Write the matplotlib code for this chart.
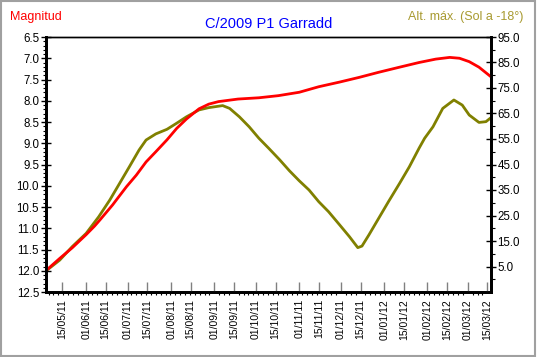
import matplotlib
matplotlib.use('Agg')
import matplotlib.pyplot as plt
import matplotlib.dates as mdates
from matplotlib.ticker import MultipleLocator, FixedLocator, FormatStrFormatter
from matplotlib.patches import Rectangle
from datetime import datetime
import pandas as pd

plt.rcParams['font.family'] = ['Liberation Sans', 'DejaVu Sans']

# magnitud (eje izquierdo)
mag_dates = ['2011-05-03', '2011-05-13', '2011-05-22', '2011-06-01', '2011-06-07',
             '2011-06-11', '2011-06-20', '2011-06-23', '2011-06-30', '2011-07-07',
             '2011-07-14', '2011-07-21', '2011-07-29', '2011-08-05', '2011-08-12',
             '2011-08-21', '2011-08-28', '2011-09-04', '2011-09-18', '2011-10-03',
             '2011-10-17', '2011-11-01', '2011-11-15', '2011-11-30', '2011-12-14',
             '2011-12-28', '2012-01-12', '2012-01-26', '2012-02-07', '2012-02-17',
             '2012-02-24', '2012-03-02', '2012-03-09', '2012-03-17']
mag_values = [12.0, 11.71, 11.46, 11.15, 10.95,
              10.80, 10.45, 10.32, 10.02, 9.75,
              9.44, 9.20, 8.92, 8.65, 8.43,
              8.19, 8.08, 8.02, 7.96, 7.93,
              7.88, 7.80, 7.67, 7.56, 7.45,
              7.33, 7.21, 7.10, 7.02, 6.98,
              7.00, 7.08, 7.21, 7.42]

# altura maxima (eje derecho)
alt_dates = ['2011-05-03', '2011-05-13', '2011-05-22', '2011-06-01', '2011-06-10',
             '2011-06-18', '2011-06-25', '2011-07-02', '2011-07-09', '2011-07-14',
             '2011-07-21', '2011-07-29', '2011-08-05', '2011-08-12', '2011-08-21',
             '2011-08-28', '2011-09-07', '2011-09-12', '2011-09-19', '2011-09-26',
             '2011-10-03', '2011-10-10', '2011-10-18', '2011-10-25', '2011-11-01',
             '2011-11-08', '2011-11-15', '2011-11-22', '2011-11-30', '2011-12-07',
             '2011-12-13', '2011-12-16', '2011-12-21', '2011-12-28', '2012-01-04',
             '2012-01-12', '2012-01-19', '2012-01-26', '2012-01-30', '2012-02-05',
             '2012-02-12', '2012-02-20', '2012-02-26', '2012-03-02', '2012-03-09',
             '2012-03-14', '2012-03-17']
alt_values = [3.2, 7.5, 12.8, 18.0, 24.5,
              31.1, 37.6, 44.1, 50.7, 54.6,
              57.0, 58.8, 61.2, 63.7, 66.4,
              67.3, 68.1, 67.0, 63.7, 59.8,
              55.3, 51.4, 46.8, 42.5, 38.6,
              35.0, 30.4, 26.5, 21.3, 16.7,
              12.4, 13.0, 17.4, 23.9, 30.4,
              37.6, 44.1, 51.4, 55.3, 59.8,
              67.0, 70.3, 68.3, 64.4, 61.5,
              61.8, 63.1]

fig = plt.figure(figsize=(5.37, 3.57), dpi=100)
ax = fig.add_axes([46 / 537, 65 / 357, 444.7 / 537, 255 / 357])
ax2 = ax.twinx()

ax2.plot(pd.to_datetime(alt_dates), alt_values, color='#808000', lw=2)
ax.plot(pd.to_datetime(mag_dates), mag_values, color='#ff0000', lw=2)
ax.set_zorder(ax2.get_zorder() + 1)
ax.patch.set_visible(False)

ax.set_xlim(datetime(2011, 5, 3, 4), datetime(2012, 3, 17, 10))
ax.set_ylim(12.5, 6.5)
ax2.set_ylim(-5, 95)

ax.xaxis.set_major_locator(mdates.DayLocator(bymonthday=[1, 15]))
ax.xaxis.set_major_formatter(mdates.DateFormatter('%d/%m/%y'))
ax.xaxis.set_minor_locator(MultipleLocator(3.5))
ax.yaxis.set_major_locator(MultipleLocator(0.5))
ax.yaxis.set_minor_locator(MultipleLocator(0.1))
ax.yaxis.set_major_formatter(FormatStrFormatter('%.1f'))
ax2.yaxis.set_major_locator(FixedLocator(list(range(5, 96, 10))))
ax2.yaxis.set_minor_locator(FixedLocator(list(range(0, 91, 10))))
ax2.yaxis.set_major_formatter(FormatStrFormatter('%.1f'))

ax.tick_params(axis='x', which='major', direction='in', length=7.5, width=1,
               color='#808080', labelrotation=90, labelsize=7.5, pad=5)
ax.tick_params(axis='x', which='minor', direction='out', length=2, width=0.8)
ax.tick_params(axis='y', which='major', direction='inout', length=7, width=1,
               labelsize=8.3, pad=1.5)
ax.tick_params(axis='y', which='minor', direction='out', length=2, width=0.8)
ax2.tick_params(axis='y', which='major', direction='inout', length=7, width=1,
                labelsize=8.3, pad=1.5)
ax2.tick_params(axis='y', which='minor', direction='out', length=3, width=0.8)

for a in (ax, ax2):
    a.spines['left'].set_linewidth(2)
    a.spines['bottom'].set_linewidth(2)
    a.spines['right'].set_linewidth(2)
    a.spines['top'].set_linewidth(1)

fig.text(10 / 537, 1 - 17 / 357, 'Magnitud', color='#ff0000', fontsize=9,
         ha='left', va='center')
fig.text(269 / 537, 1 - 24 / 357, 'C/2009 P1 Garradd', color='#0000ff',
         fontsize=10.5, ha='center', va='center')
fig.text(523 / 537, 1 - 17 / 357, 'Alt. máx. (Sol a -18°)', color='#a89a30',
         fontsize=9, ha='right', va='center')

fig.add_artist(Rectangle((0.002, 0.003), 0.994, 0.993, transform=fig.transFigure,
                         fill=False, ec='#a0a0a0', lw=1.5))

fig.savefig('out.png', dpi=100)
